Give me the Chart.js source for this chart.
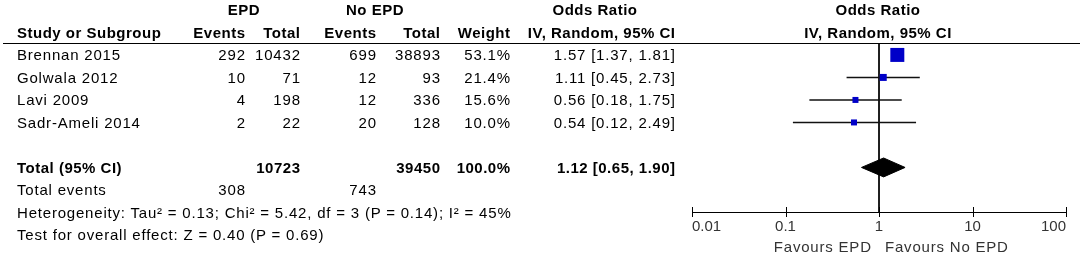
<!DOCTYPE html>
<html>
<head>
<meta charset="utf-8">
<script src="https://cdn.jsdelivr.net/npm/chart.js@4"></script>
<style>
  html, body { margin: 0; padding: 0; background: #fff; }
  #wrap { position: relative; width: 1084px; height: 256px; overflow: hidden; background: #fff; }
  #c { position: absolute; left: 0; top: 0; }
  .t { position: absolute; font-family: "Liberation Sans", Arial, sans-serif; font-size: 15px;
       line-height: 18px; white-space: nowrap; color: #000; letter-spacing: 0.8px; }
  .b { font-weight: bold; letter-spacing: 0.5px; }
  .g { color: #333; }
  #rule { position: absolute; left: 3px; top: 43px; width: 1077px; height: 1px; background: #000; }
</style>
</head>
<body>
<div id="wrap">
  <canvas id="c" width="1084" height="256"></canvas>
  <div id="rule"></div>
</div>
<script>
// ---------------- data ----------------
const studies   = ['Brennan 2015', 'Golwala 2012', 'Lavi 2009', 'Sadr-Ameli 2014'];
const epdEvents = [292, 10, 4, 2];
const epdTotal  = [10432, 71, 198, 22];
const noEvents  = [699, 12, 12, 20];
const noTotal   = [38893, 93, 336, 128];
const weights   = [53.1, 21.4, 15.6, 10.0];
const orEst     = [1.57, 1.11, 0.56, 0.54];
const orLow     = [1.37, 0.45, 0.18, 0.12];
const orHigh    = [1.81, 2.73, 1.75, 2.49];
const pooledOR  = [1.12, 0.65, 1.90];      // estimate, lower, upper
const totalN    = [10723, 39450];          // EPD, No EPD
const totalEv   = [308, 743];              // EPD, No EPD
const totalWeight = 100.0;
const tickValues = [0.01, 0.1, 1, 10, 100];
const tickLabels = ['0.01', '0.1', '1', '10', '100'];
const heterogeneity = 'Heterogeneity: Tau\u00B2 = 0.13; Chi\u00B2 = 5.42, df = 3 (P = 0.14); I\u00B2 = 45%';
const overallTest   = 'Test for overall effect: Z = 0.40 (P = 0.69)';

// ---------------- layout / style ----------------
const W = 1084;
const lineY = i => 10 + 22.5 * i;           // text row centres
const colRight = { epdEv: 245, epdTot: 300, noEv: 376, noTot: 440, wt: 510, or: 675 };
const leftX = 17;
const boxSides = [14, 7, 6, 6];              // marker square sizes (px)
const blue = '#0000c8';

const wrap = document.getElementById('wrap');
function txt(s, x, y, align, cls) {
  const d = document.createElement('div');
  d.className = 't' + (cls ? ' ' + cls : '');
  d.textContent = s;
  d.style.top = (y - 9) + 'px';
  if (align === 'right') {
    d.style.right = (W - x) + 'px';
    d.style.marginRight = cls && cls.indexOf('b') >= 0 ? '-0.5px' : '-0.8px';
  } else if (align === 'center') {
    d.style.left = x + 'px';
    d.style.transform = 'translateX(-50%)';
  } else {
    d.style.left = x + 'px';
  }
  wrap.appendChild(d);
}
const fmtOR = (e, l, h) => e.toFixed(2) + ' [' + l.toFixed(2) + ', ' + h.toFixed(2) + ']';

// header
txt('EPD', 244, lineY(0), 'center', 'b');
txt('No EPD', 375, lineY(0), 'center', 'b');
txt('Odds Ratio', 595, lineY(0), 'center', 'b');
txt('Odds Ratio', 878, lineY(0), 'center', 'b');
txt('Study or Subgroup', leftX, lineY(1), 'left', 'b');
txt('Events', colRight.epdEv, lineY(1), 'right', 'b');
txt('Total', colRight.epdTot, lineY(1), 'right', 'b');
txt('Events', colRight.noEv, lineY(1), 'right', 'b');
txt('Total', colRight.noTot, lineY(1), 'right', 'b');
txt('Weight', colRight.wt, lineY(1), 'right', 'b');
txt('IV, Random, 95% CI', colRight.or, lineY(1), 'right', 'b');
txt('IV, Random, 95% CI', 878, lineY(1), 'center', 'b');

// study rows
studies.forEach((s, i) => {
  const y = lineY(2 + i);
  txt(s, leftX, y, 'left');
  txt(String(epdEvents[i]), colRight.epdEv, y, 'right');
  txt(String(epdTotal[i]), colRight.epdTot, y, 'right');
  txt(String(noEvents[i]), colRight.noEv, y, 'right');
  txt(String(noTotal[i]), colRight.noTot, y, 'right');
  txt(weights[i].toFixed(1) + '%', colRight.wt, y, 'right');
  txt(fmtOR(orEst[i], orLow[i], orHigh[i]), colRight.or, y, 'right');
});

// totals
txt('Total (95% CI)', leftX, lineY(7), 'left', 'b');
txt(String(totalN[0]), colRight.epdTot, lineY(7), 'right', 'b');
txt(String(totalN[1]), colRight.noTot, lineY(7), 'right', 'b');
txt(totalWeight.toFixed(1) + '%', colRight.wt, lineY(7), 'right', 'b');
txt(fmtOR(pooledOR[0], pooledOR[1], pooledOR[2]), colRight.or, lineY(7), 'right', 'b');
txt('Total events', leftX, lineY(8), 'left');
txt(String(totalEv[0]), colRight.epdEv, lineY(8), 'right');
txt(String(totalEv[1]), colRight.noEv, lineY(8), 'right');
txt(heterogeneity, leftX, lineY(9), 'left');
txt(overallTest, leftX, lineY(10), 'left');

// favours labels
txt('Favours EPD', 871, 247, 'right', 'g');
txt('Favours No EPD', 885, 247, 'left', 'g');

// ---------------- chart ----------------
const yMin = -0.53, yMax = 6.98;
const totalRow = 5;
const diamondHalf = 0.42;

const ciSets = studies.map((s, i) => ({
  label: s + ' CI',
  data: [{ x: orLow[i], y: i }, { x: orHigh[i], y: i }],
  showLine: true, borderColor: '#111', borderWidth: 1.5,
  pointRadius: 0, order: 2
}));

const tickMarks = {
  id: 'tickMarks',
  afterDraw(chart) {
    const xs = chart.scales.x, ctx = chart.ctx, y = Math.round(xs.top);
    ctx.save();
    ctx.strokeStyle = '#000';
    ctx.lineWidth = 1;
    xs.ticks.forEach(t => {
      const px = Math.round(xs.getPixelForValue(t.value)) + 0.5;
      ctx.beginPath();
      ctx.moveTo(px, y - 5);
      ctx.lineTo(px, y + 5);
      ctx.stroke();
    });
    ctx.restore();
  }
};

new Chart(document.getElementById('c'), {
  type: 'scatter',
  data: {
    datasets: [
      {
        label: 'Studies',
        data: orEst.map((v, i) => ({ x: v, y: i })),
        pointStyle: 'rect',
        pointRadius: boxSides.map(s => s / (2 * Math.SQRT1_2)),
        pointBackgroundColor: blue,
        pointBorderWidth: 0,
        showLine: false,
        order: 0
      },
      {
        label: 'Pooled',
        data: [
          { x: pooledOR[1], y: totalRow },
          { x: pooledOR[0], y: totalRow - diamondHalf },
          { x: pooledOR[2], y: totalRow },
          { x: pooledOR[0], y: totalRow + diamondHalf },
          { x: pooledOR[1], y: totalRow }
        ],
        showLine: true, fill: 'shape', backgroundColor: '#000',
        borderColor: '#000', borderWidth: 1, pointRadius: 0, tension: 0,
        order: 1
      },
      ...ciSets,
      {
        label: 'No effect',
        data: [{ x: 1, y: yMin }, { x: 1, y: yMax }],
        showLine: true, borderColor: '#000', borderWidth: 1, pointRadius: 0,
        order: 3
      }
    ]
  },
  options: {
    responsive: false,
    animation: false,
    devicePixelRatio: 1,
    layout: { padding: { left: 692, right: 18, top: 43, bottom: 0 } },
    plugins: { legend: { display: false }, tooltip: { enabled: false } },
    scales: {
      x: {
        type: 'logarithmic',
        position: 'bottom',
        min: 0.01, max: 100,
        afterBuildTicks: scale => { scale.ticks = tickValues.map(v => ({ value: v })); },
        afterFit: scale => { scale.height = 44; },
        grid: { display: false, drawTicks: false },
        border: { display: true, color: '#000', width: 1 },
        ticks: {
          autoSkip: false, maxRotation: 0, align: 'inner', padding: 6,
          color: '#333',
          font: { family: '"Liberation Sans", Arial, sans-serif', size: 15 },
          callback: (v, i) => tickLabels[i]
        }
      },
      y: {
        type: 'linear', display: false, reverse: true, min: yMin, max: yMax
      }
    }
  },
  plugins: [tickMarks]
});
</script>
</body>
</html>
